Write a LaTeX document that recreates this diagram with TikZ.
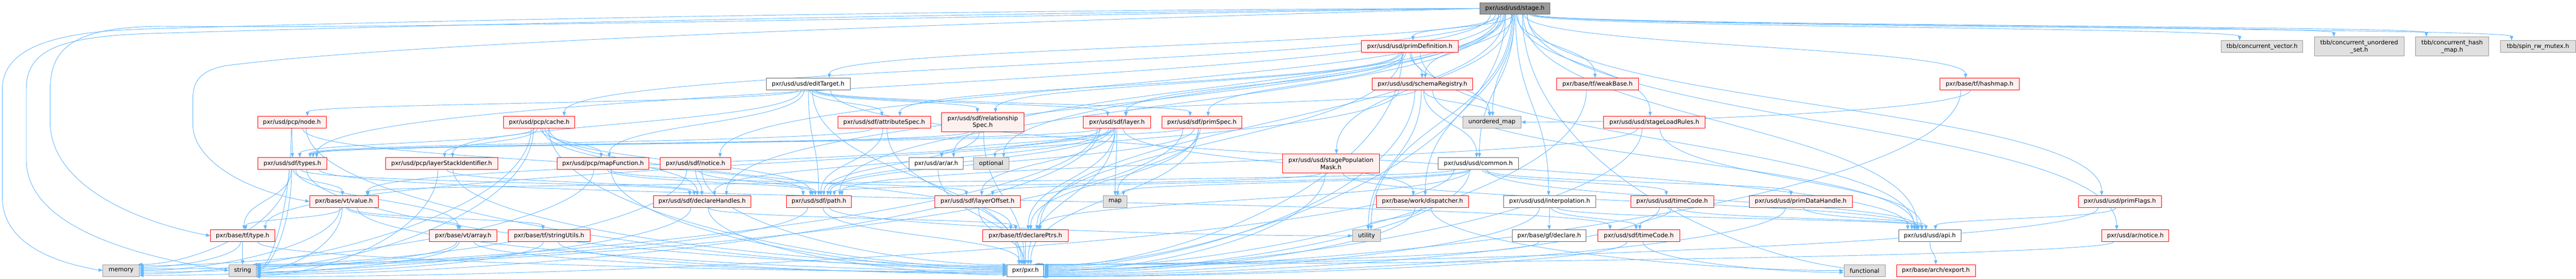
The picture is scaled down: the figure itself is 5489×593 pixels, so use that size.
\documentclass[tikz,border=0pt]{standalone}
\usepackage{fontspec}
\setmainfont{DejaVu Sans}
\usetikzlibrary{arrows.meta,calc}
\pgfdeclarelayer{back}
\pgfdeclarelayer{bg}
\pgfsetlayers{back,bg,main}
\definecolor{edgecol}{HTML}{63B8FF}
\definecolor{redfill}{HTML}{FFF0F0}
\definecolor{grayfill}{HTML}{E0E0E0}
\definecolor{grayline}{HTML}{999999}
\definecolor{darkline}{HTML}{666666}
\definecolor{mainfill}{HTML}{999999}
\tikzset{
  basebox/.style={draw, line width=1pt, inner sep=0pt, minimum height=25pt, align=center, font=\fontsize{12.7}{15}\selectfont, text=black},
  rbox/.style={basebox, draw=red, fill=redfill},
  wbox/.style={basebox, draw=darkline, fill=white},
  gbox/.style={basebox, draw=grayline, fill=grayfill},
  mbox/.style={basebox, draw=darkline, fill=mainfill},
  conn/.style={draw=edgecol, line width=1pt, -{Triangle[length=9pt,width=7pt]}},
}
% generic edge: bottom of source to top of target
\newcommand\gedge[3][]{%
  \draw[conn,#1] let \p1=(#2.south), \p2=(#3.north), \p3=(#2.south east), \p4=(#3.north east),
    \n1={max(-0.8*(\x3-\x1),min(0.8*(\x3-\x1),0.02*(\x2-\x1)))},
    \n2={max(-0.7*(\x4-\x2),min(0.7*(\x4-\x2),0.03*(\x1-\x2)))},
    \n3={0.5*(\y2-\y1)}
  in (\x1+\n1,\y1) .. controls (\x1+\n1,\y1+\n3) and (\x2+\n2,\y2-\n3) .. (\x2+\n2,\y2);}
% side edge: bottom of source to a side anchor of target
\newcommand\sedge[4][]{%
  \draw[conn,#1] let \p1=(#2.south), \p2=(#3.#4), \p3=(#2.south east),
    \n1={max(-0.8*(\x3-\x1),min(0.8*(\x3-\x1),0.02*(\x2-\x1)))},
    \n3={0.6*(\y2-\y1)}, \n4={0.35*(\x2-\x1)}
  in (\x1+\n1,\y1) .. controls (\x1+\n1,\y1+\n3) and (\x2-\n4,\y2) .. (\x2,\y2);}
\begin{document}
\begin{tikzpicture}[x=1pt,y=-1pt]
\begin{pgfonlayer}{back}
\fill[white] (0,0) rectangle (5489,593);
\end{pgfonlayer}
\useasboundingbox (0,0) rectangle (5489,593);
% rank 0
\node[mbox, minimum width=150pt] (stage) at (3228,18) {pxr/usd/usd/stage.h};
% rank 1
\node[rbox, minimum width=207pt] (primdef) at (3004,99) {pxr/usd/usd/primDefinition.h};
\node[gbox, minimum width=174pt] (cvec) at (4820,99) {tbb/concurrent\_vector.h};
\node[gbox, minimum width=191pt, minimum height=41pt] (cuset) at (5027,99) {tbb/concurrent\_unordered\\\_set.h};
\node[gbox, minimum width=156pt, minimum height=41pt] (chash) at (5225,99) {tbb/concurrent\_hash\\\_map.h};
\node[gbox, minimum width=160pt] (spin) at (5408,99) {tbb/spin\_rw\_mutex.h};
% rank 2
\node[wbox, minimum width=179pt] (edit) at (1722,179) {pxr/usd/usd/editTarget.h};
\node[rbox, minimum width=215pt] (schema) at (3031,179) {pxr/usd/usd/schemaRegistry.h};
\node[rbox, minimum width=175pt] (weak) at (3404,179) {pxr/base/tf/weakBase.h};
\node[rbox, minimum width=169pt] (hashmap) at (4218,179) {pxr/base/tf/hashmap.h};
% rank 3
\node[rbox, minimum width=146pt] (pcpnode) at (622,260) {pxr/usd/pcp/node.h};
\node[rbox, minimum width=151pt] (cache) at (1149,260) {pxr/usd/pcp/cache.h};
\node[rbox, minimum width=198pt] (attr) at (1884,260) {pxr/usd/sdf/attributeSpec.h};
\node[rbox, minimum width=175pt, minimum height=40pt] (rel) at (2094,260) {pxr/usd/sdf/relationship\\Spec.h};
\node[rbox, minimum width=143pt] (layer) at (2380,260) {pxr/usd/sdf/layer.h};
\node[rbox, minimum width=170pt] (prim) at (2561,260) {pxr/usd/sdf/primSpec.h};
\node[gbox, minimum width=124pt] (umap) at (3179,260) {unordered\_map};
\node[rbox, minimum width=216pt] (loadrules) at (3525,260) {pxr/usd/usd/stageLoadRules.h};
% rank 4
\node[rbox, minimum width=147pt] (types) at (623,348) {pxr/usd/sdf/types.h};
\node[rbox, minimum width=239pt] (lsi) at (941,348) {pxr/usd/pcp/layerStackIdentifier.h};
\node[rbox, minimum width=196pt] (mapf) at (1285,348) {pxr/usd/pcp/mapFunction.h};
\node[rbox, minimum width=151pt] (sdfnotice) at (1482,348) {pxr/usd/sdf/notice.h};
\node[wbox, minimum width=115pt] (ar) at (1995,348) {pxr/usd/ar/ar.h};
\node[gbox, minimum width=75pt] (optional) at (2112,348) {optional};
\node[rbox, minimum width=206pt, minimum height=40pt] (popmask) at (2836,348) {pxr/usd/usd/stagePopulation\\Mask.h};
\node[wbox, minimum width=171pt] (common) at (3150,348) {pxr/usd/usd/common.h};
% rank 5
\node[rbox, minimum width=146pt] (value) at (733,429) {pxr/base/vt/value.h};
\node[rbox, minimum width=208pt] (dhandles) at (1496,429) {pxr/usd/sdf/declareHandles.h};
\node[rbox, minimum width=139pt] (path) at (1745,429) {pxr/usd/sdf/path.h};
\node[rbox, minimum width=182pt] (loff) at (2083,429) {pxr/usd/sdf/layerOffset.h};
\node[gbox, minimum width=50pt] (map) at (2376,429) {map};
\node[rbox, minimum width=197pt] (dispatcher) at (3031,429) {pxr/base/work/dispatcher.h};
\node[wbox, minimum width=196pt] (interp) at (3302,429) {pxr/usd/usd/interpolation.h};
\node[rbox, minimum width=177pt] (usdtc) at (3563,429) {pxr/usd/usd/timeCode.h};
\node[rbox, minimum width=220pt] (pdh) at (3837,429) {pxr/usd/usd/primDataHandle.h};
\node[rbox, minimum width=177pt] (pflags) at (4517,429) {pxr/usd/usd/primFlags.h};
% rank 6
\node[rbox, minimum width=137pt] (type) at (517,502) {pxr/base/tf/type.h};
\node[rbox, minimum width=143pt] (array) at (987,502) {pxr/base/vt/array.h};
\node[rbox, minimum width=175pt] (strutil) at (1170,502) {pxr/base/tf/stringUtils.h};
\node[rbox, minimum width=182pt] (dptrs) at (2185,502) {pxr/base/tf/declarePtrs.h};
\node[gbox, minimum width=60pt] (utility) at (2912,502) {utility};
\node[wbox, minimum width=158pt] (gfdecl) at (3301,502) {pxr/base/gf/declare.h};
\node[rbox, minimum width=174pt] (sdftc) at (3492,502) {pxr/usd/sdf/timeCode.h};
\node[wbox, minimum width=133pt] (api) at (4112,502) {pxr/usd/usd/api.h};
\node[rbox, minimum width=143pt] (arnotice) at (4550,502) {pxr/usd/ar/notice.h};
% rank 7
\node[gbox, minimum width=77pt] (memory) at (258,576) {memory};
\node[gbox, minimum width=58pt] (string) at (517,576) {string};
\node[wbox, minimum width=78pt] (pxr) at (2185,576) {pxr/pxr.h};
\node[gbox, minimum width=88pt] (functional) at (3973,576) {functional};
\node[rbox, minimum width=168pt] (export) at (4125,576) {pxr/base/arch/export.h};

\begin{pgfonlayer}{bg}
% long routed edges of stage.h
\draw[conn] (stage.west) .. controls (2200,20) and (1000,40) .. (300,62) .. controls (120,68) and (5,100) .. (5,190) -- (5,420) .. controls (5,520) and (120,560) .. (memory.west);
\draw[conn] (stage.west) .. controls (2200,26) and (1000,50) .. (300,72) .. controls (120,80) and (56,110) .. (56,190) -- (56,340) .. controls (56,480) and (280,545) .. (string.west);
\draw[conn] (stage.west) .. controls (2200,32) and (900,62) .. (350,56) .. controls (160,56) and (107,100) .. (107,190) -- (107,260) .. controls (107,390) and (280,470) .. (type.west);
\draw[conn] (stage.west) .. controls (2200,45) and (900,85) .. (480,140) .. controls (430,150) and (411,170) .. (411,210) -- (411,265) .. controls (411,340) and (520,405) .. (value.west);
% stage.h
\gedge{stage}{types}
\gedge{stage}{cache}
\gedge{stage}{edit}
\gedge{stage}{dhandles}
\gedge{stage}{sdfnotice}
\gedge{stage}{path}
\gedge{stage}{ar}
\gedge{stage}{optional}
\gedge{stage}{primdef}
\gedge{stage}{schema}
\gedge{stage}{umap}
\gedge{stage}{weak}
\gedge{stage}{common}
\gedge{stage}{popmask}
\gedge{stage}{dispatcher}
\gedge{stage}{interp}
\gedge{stage}{utility}
\gedge{stage}{loadrules}
\gedge{stage}{hashmap}
\gedge{stage}{dptrs}
\gedge{stage}{api}
\gedge{stage}{pflags}
\gedge{stage}{arnotice}
\gedge{stage}{cvec}
\gedge{stage}{cuset}
\gedge{stage}{chash}
\gedge{stage}{spin}
\sedge{stage}{pxr}{16}
\sedge{stage}{functional}{east}
% primDefinition.h
\gedge{primdef}{schema}
\gedge{primdef}{umap}
\gedge{primdef}{attr}
\gedge{primdef}{rel}
\gedge{primdef}{layer}
\gedge{primdef}{prim}
\gedge{primdef}{dptrs}
\gedge{primdef}{api}
\sedge{primdef}{pxr}{13}
% schemaRegistry.h
\gedge{schema}{umap}
\gedge{schema}{common}
\gedge{schema}{utility}
\gedge{schema}{api}
\gedge{schema}{type}
\gedge{schema}{layer}
\sedge{schema}{pxr}{10}
% editTarget.h
\gedge{edit}{pcpnode}
\gedge{edit}{lsi}
\gedge{edit}{mapf}
\gedge{edit}{path}
\gedge{edit}{attr}
\gedge{edit}{rel}
\gedge{edit}{layer}
\gedge{edit}{prim}
\gedge{edit}{api}
\gedge{edit}{pxr}
% weakBase.h, hashmap.h
\sedge{weak}{pxr}{7}
\sedge{hashmap}{pxr}{4}
\sedge{hashmap}{umap}{east}
% pcp/node.h
\gedge{pcpnode}{types}
\gedge{pcpnode}{path}
\sedge{pcpnode}{string}{10}
\sedge{pcpnode}{pxr}{175}
% pcp/cache.h
\gedge{cache}{mapf}
\gedge{cache}{lsi}
\gedge{cache}{types}
\gedge{cache}{path}
\gedge{cache}{dhandles}
\gedge{cache}{dptrs}
\sedge{cache}{memory}{-10}
\sedge{cache}{string}{15}
\sedge{cache}{pxr}{172}
% attributeSpec.h, relationshipSpec.h
\gedge{attr}{path}
\gedge{attr}{types}
\gedge{attr}{pxr}
\gedge{rel}{types}
\gedge{rel}{path}
\gedge{rel}{pxr}
% layer.h
\gedge{layer}{optional}
\gedge{layer}{loff}
\gedge{layer}{map}
\gedge{layer}{dptrs}
\gedge{layer}{pxr}
\gedge{layer}{dhandles}
\gedge{layer}{path}
\gedge{layer}{types}
\gedge{layer}{value}
\gedge{layer}{ar}
\gedge{layer}{dispatcher}
\sedge{layer}{memory}{5}
\sedge{layer}{string}{-15}
% primSpec.h
\gedge{prim}{map}
\gedge{prim}{dptrs}
\gedge{prim}{pxr}
\gedge{prim}{path}
\gedge{prim}{types}
\sedge{prim}{string}{20}
% stageLoadRules.h
\gedge{loadrules}{path}
\gedge{loadrules}{api}
\sedge{loadrules}{pxr}{1}
% sdf/types.h
\gedge{types}{type}
\gedge{types}{value}
\gedge{types}{array}
\gedge{types}{dhandles}
\gedge{types}{sdftc}
\sedge{types}{string}{5}
\sedge{types}{memory}{20}
\sedge{types}{pxr}{169}
% layerStackIdentifier.h, mapFunction.h
\gedge{lsi}{dhandles}
\sedge{lsi}{string}{-20}
\sedge{lsi}{pxr}{166}
\gedge{mapf}{path}
\gedge{mapf}{loff}
\sedge{mapf}{memory}{15}
\sedge{mapf}{pxr}{178}
% sdf/notice.h, ar.h
\gedge{sdfnotice}{dhandles}
\gedge{sdfnotice}{path}
\sedge{sdfnotice}{string}{25}
\sedge{sdfnotice}{pxr}{163}
\gedge{ar}{pxr}
% stagePopulationMask.h
\gedge{popmask}{path}
\gedge{popmask}{api}
\sedge{popmask}{pxr}{-2}
% usd/common.h
\gedge{common}{pdh}
\gedge{common}{usdtc}
\gedge{common}{api}
\gedge{common}{dptrs}
\gedge{common}{loff}
\gedge{common}{map}
\gedge{common}{value}
\sedge{common}{string}{-25}
\sedge{common}{pxr}{-5}
% vt/value.h
\gedge{value}{type}
\gedge{value}{array}
\gedge{value}{strutil}
\sedge{value}{memory}{0}
\sedge{value}{string}{0}
\sedge{value}{pxr}{181}
% declareHandles.h, path.h, layerOffset.h
\gedge{dhandles}{dptrs}
\sedge{dhandles}{memory}{-15}
\sedge{dhandles}{pxr}{193}
\gedge{path}{pxr}
\sedge{path}{string}{30}
\sedge{path}{utility}{west}
\gedge{loff}{pxr}
% dispatcher.h
\gedge{dispatcher}{utility}
\sedge{dispatcher}{functional}{west}
\sedge{dispatcher}{pxr}{-8}
% interpolation.h
\gedge{interp}{gfdecl}
\gedge{interp}{sdftc}
\gedge{interp}{api}
\sedge{interp}{pxr}{-11}
% usd/timeCode.h, primDataHandle.h, primFlags.h
\gedge{usdtc}{sdftc}
\gedge{usdtc}{api}
\sedge{usdtc}{pxr}{-14}
\gedge{pdh}{api}
\sedge{pdh}{pxr}{-17}
\gedge{pflags}{api}
\sedge{pflags}{pxr}{25}
% rank 6 sources
\gedge{type}{string}
\sedge{type}{memory}{10}
\sedge{type}{pxr}{184}
\sedge{array}{memory}{-5}
\sedge{array}{string}{-5}
\sedge{array}{pxr}{187}
\sedge{strutil}{string}{-10}
\sedge{strutil}{pxr}{190}
\gedge{dptrs}{pxr}
\sedge{gfdecl}{pxr}{35}
\sedge{sdftc}{functional}{185}
\sedge{sdftc}{pxr}{-20}
\gedge{api}{export}
\sedge{arnotice}{pxr}{30}
\end{pgfonlayer}
\end{tikzpicture}
\end{document}
